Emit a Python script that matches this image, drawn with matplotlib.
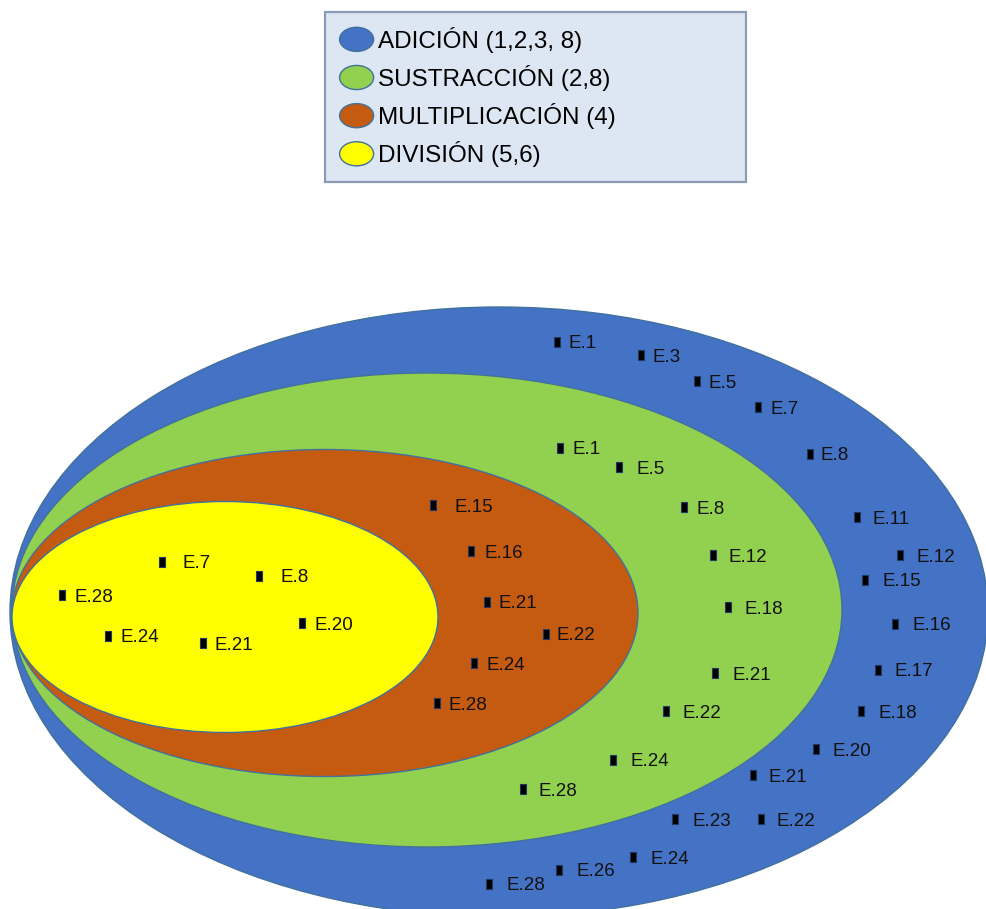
import matplotlib.pyplot as plt
from matplotlib.patches import Ellipse
from matplotlib.legend_handler import HandlerPatch
from matplotlib.path import Path

# sets, outer to inner
set_names = ["ADICIÓN (1,2,3, 8)", "SUSTRACCIÓN (2,8)", "MULTIPLICACIÓN (4)", "DIVISIÓN (5,6)"]
set_colors = ["#4472C4", "#92D050", "#C55A11", "#FFFF00"]

# students placed inside each ring (label, x, y in picture pixels, gap to label)
adicion_labels = ["E.1", "E.3", "E.5", "E.7", "E.8", "E.11", "E.12", "E.15", "E.16",
                  "E.17", "E.18", "E.20", "E.21", "E.22", "E.23", "E.24", "E.26", "E.28"]
adicion_x = [557, 641, 697, 758, 810, 857, 900, 865, 895, 878, 861, 816, 753, 761, 675, 633, 559, 489]
adicion_y = [342, 355, 381, 407, 454, 517, 555, 580, 624, 670, 711, 749, 775, 819, 819, 857, 870, 884]
adicion_gap = [11, 11, 11, 12, 11, 15, 17, 17, 18, 17, 17, 17, 15, 16, 17, 17, 18, 18]

sustr_labels = ["E.1", "E.5", "E.8", "E.12", "E.18", "E.21", "E.22", "E.24", "E.28"]
sustr_x = [560, 619, 684, 713, 728, 715, 666, 613, 523]
sustr_y = [448, 467, 507, 555, 607, 673, 711, 760, 789]
sustr_gap = [12, 18, 12, 16, 17, 17, 17, 17, 16]

multi_labels = ["E.15", "E.16", "E.21", "E.22", "E.24", "E.28"]
multi_x = [433, 471, 487, 546, 474, 437]
multi_y = [505, 551, 602, 634, 663, 703]
multi_gap = [21, 14, 12, 10, 12, 12]

div_labels = ["E.7", "E.8", "E.28", "E.20", "E.24", "E.21"]
div_x = [162, 259, 62, 302, 108, 203]
div_y = [562, 576, 595, 623, 636, 643]
div_gap = [21, 21, 12, 12, 12, 12]

# ellipse layout (centre x, centre y, width, height) in pixels
ell_cx = [499, 427, 325, 225]
ell_cy = [612, 610, 613, 617]
ell_w = [978, 830, 626, 426]
ell_h = [610, 474, 327, 231]

W, H = 987, 909
fig = plt.figure(figsize=(W / 100, H / 100), dpi=100)
ax = fig.add_axes([0, 0, 1, 1])
ax.set_xlim(0, W)
ax.set_ylim(H, 0)
ax.axis("off")

for cx, cy, w, h, c in zip(ell_cx, ell_cy, ell_w, ell_h, set_colors):
    ax.add_patch(Ellipse((cx, cy), w, h, facecolor=c, edgecolor="#41719C", lw=1.0))

rect = Path([(-0.55, -1), (0.55, -1), (0.55, 1), (-0.55, 1), (-0.55, -1)],
            [Path.MOVETO, Path.LINETO, Path.LINETO, Path.LINETO, Path.CLOSEPOLY])

groups = [(adicion_labels, adicion_x, adicion_y, adicion_gap),
          (sustr_labels, sustr_x, sustr_y, sustr_gap),
          (multi_labels, multi_x, multi_y, multi_gap),
          (div_labels, div_x, div_y, div_gap)]
for labels, xs, ys, gaps in groups:
    ax.plot(xs, ys, ls="none", marker=rect, ms=7, mfc="black", mec="#1F3864", mew=0.8)
    for lab, x, y, g in zip(labels, xs, ys, gaps):
        ax.text(x + g, y + 2, lab, fontsize=13.5, family="Liberation Sans", va="center",
                ha="left", color="#111111")


class HandlerEllipse(HandlerPatch):
    def create_artists(self, legend, orig_handle, xdescent, ydescent, width, height,
                       fontsize, trans):
        p = Ellipse((width / 2 - xdescent, height / 2 - ydescent), width, height,
                    facecolor=orig_handle.get_facecolor(), edgecolor="#41719C", lw=1.0)
        p.set_transform(trans)
        return [p]


handles = [Ellipse((0, 0), 1, 1, facecolor=c) for c in set_colors]
leg = fig.legend(handles, set_names, handler_map={Ellipse: HandlerEllipse()},
                 loc="upper left", bbox_to_anchor=(325 / W, 1 - 12 / H - 0.01, 421 / W, 0.01),
                 mode="expand", borderaxespad=0, prop={"family": "Liberation Sans", "size": 17.5},
                 handlelength=1.4, handleheight=1.15, handletextpad=0.2,
                 labelspacing=0.5, borderpad=0.6, fancybox=False, framealpha=1)
leg.get_frame().set_facecolor("#DDE7F3")
leg.get_frame().set_edgecolor("#8A9BB5")
leg.get_frame().set_linewidth(1.6)

fig.savefig("out.png", dpi=100)
